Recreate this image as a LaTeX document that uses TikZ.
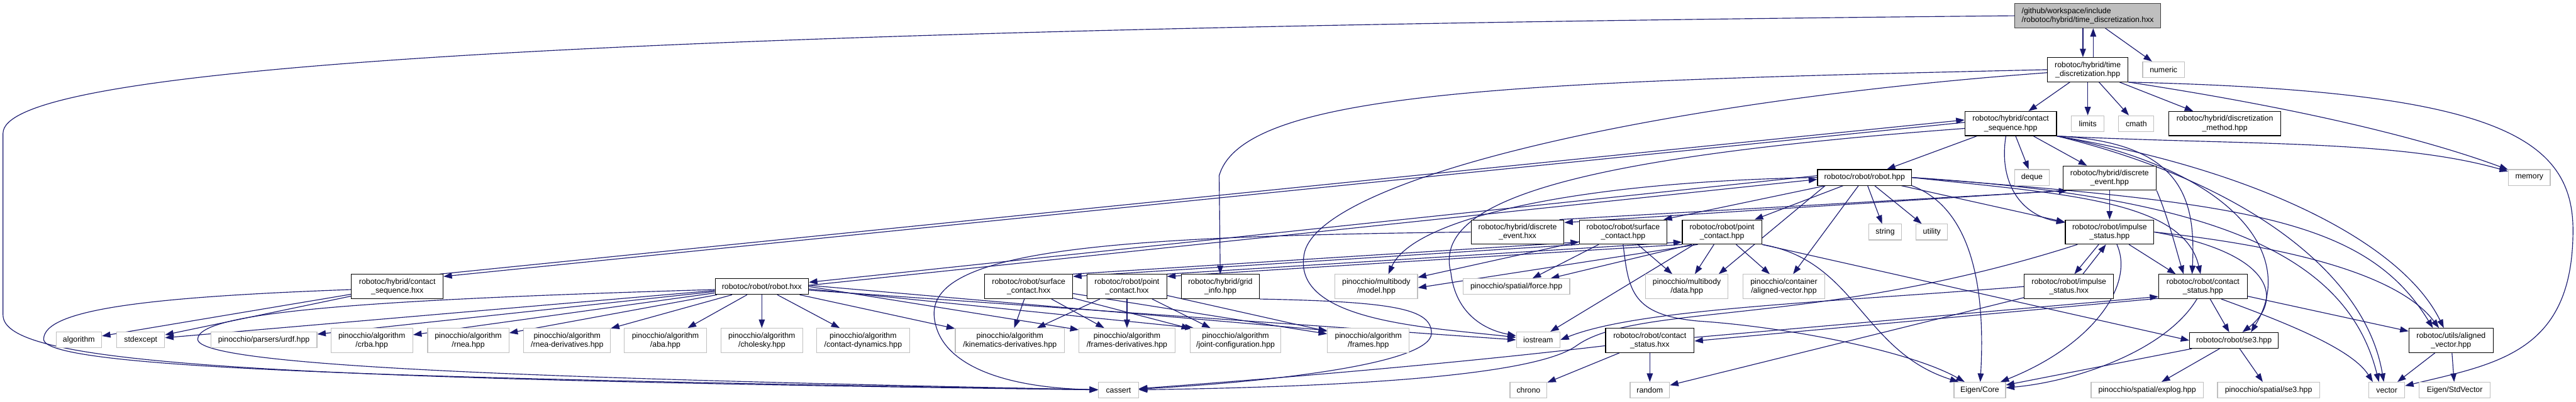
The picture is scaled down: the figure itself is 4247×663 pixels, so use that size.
\documentclass[tikz,border=0pt]{standalone}
\usepackage{fontspec}
\setmainfont{Liberation Sans}
\usepackage{xcolor}
\usepackage{tikz}
\usetikzlibrary{arrows.meta, positioning, backgrounds}

\definecolor{linkblue}{HTML}{191970}
\definecolor{sysgray}{HTML}{BFBFBF}
\definecolor{rootgray}{HTML}{BFBFBF}

\tikzset{
  filebox/.style={draw, fill=white, align=center, inner xsep=6pt, inner ysep=0pt,
    font=\fontsize{12.8}{14.7}\selectfont, minimum height=26pt, line width=1.2pt},
  hdr/.style={filebox, draw=black},
  sysh/.style={filebox, draw=sysgray},
  tall/.style={minimum height=40pt},
  inc/.style={draw=linkblue, line width=1.2pt, -{Triangle[length=14pt,width=10pt]}},
}

\begin{document}
\begin{tikzpicture}[x=1pt, y=-1pt]
  \useasboundingbox (0,0) rectangle (4247,663);

  % ---- the file and its own header ----
  \node[hdr, fill=rootgray, draw=black!75, align=left, tall, minimum width=241pt] (root) at (3442,26)
    {/github/workspace/include\\/robotoc/hybrid/time\_discretization.hxx};
  \node[hdr, tall, minimum width=133pt] (tdhpp) at (3442,115) {robotoc/hybrid/time\\\_discretization.hpp};
  \node[sysh, minimum width=69pt] (numeric) at (3567,115) {numeric};

  % ---- row 3 ----
  \node[hdr, tall, minimum width=151pt] (csp) at (3315,204) {robotoc/hybrid/contact\\\_sequence.hpp};
  \node[sysh, minimum width=54pt] (limits) at (3442,204) {limits};
  \node[sysh, minimum width=58pt] (cmath) at (3522,204) {cmath};
  \node[hdr, tall, minimum width=184pt] (dmethod) at (3668,204) {robotoc/hybrid/discretization\\\_method.hpp};

  % ---- row 4 ----
  \node[hdr, minimum width=155pt] (robothpp) at (3074,293) {robotoc/robot/robot.hpp};
  \node[sysh, minimum width=57pt] (deque) at (3350,293) {deque};
  \node[hdr, tall, minimum width=154pt] (dehpp) at (3478,294) {robotoc/hybrid/discrete\\\_event.hpp};
  \node[sysh, minimum width=69pt] (memory) at (4170,293) {memory};

  % ---- row 5 ----
  \node[hdr, tall, minimum width=153pt] (dehxx) at (2502,383) {robotoc/hybrid/discrete\\\_event.hxx};
  \node[hdr, tall, minimum width=144pt] (schpp) at (2676,383) {robotoc/robot/surface\\\_contact.hpp};
  \node[hdr, tall, minimum width=131pt] (pchpp) at (2839,383) {robotoc/robot/point\\\_contact.hpp};
  \node[sysh, minimum width=54pt] (string) at (3108,383) {string};
  \node[sysh, minimum width=52pt] (utility) at (3185,383) {utility};
  \node[hdr, tall, minimum width=146pt] (ishpp) at (3478,383) {robotoc/robot/impulse\\\_status.hpp};

  % ---- row 6 ----
  \node[hdr, tall, minimum width=151pt] (csxx) at (655,473) {robotoc/hybrid/contact\\\_sequence.hxx};
  \node[hdr, minimum width=154pt] (robothxx) at (1256,473) {robotoc/robot/robot.hxx};
  \node[hdr, tall, minimum width=145pt] (schxx) at (1696,473) {robotoc/robot/surface\\\_contact.hxx};
  \node[hdr, tall, minimum width=131pt] (pchxx) at (1858,473) {robotoc/robot/point\\\_contact.hxx};
  \node[hdr, tall, minimum width=128pt] (gridinfo) at (2012,473) {robotoc/hybrid/grid\\\_info.hpp};
  \node[sysh, tall, minimum width=136pt] (model) at (2269,473) {pinocchio/multibody\\/model.hpp};
  \node[sysh, minimum width=176pt] (force) at (2500,473) {pinocchio/spatial/force.hpp};
  \node[sysh, tall, minimum width=136pt] (data) at (2781,473) {pinocchio/multibody\\/data.hpp};
  \node[sysh, tall, minimum width=134pt] (alvec) at (2941,473) {pinocchio/container\\/aligned-vector.hpp};
  \node[hdr, tall, minimum width=147pt] (ishxx) at (3411,473) {robotoc/robot/impulse\\\_status.hxx};
  \node[hdr, tall, minimum width=146pt] (cshpp) at (3632,473) {robotoc/robot/contact\\\_status.hpp};

  % ---- row 7 ----
  \node[sysh, minimum width=75pt] (algorithm) at (130,561) {algorithm};
  \node[sysh, minimum width=79pt] (stdexcept) at (232,561) {stdexcept};
  \node[sysh, minimum width=175pt] (urdf) at (435,561) {pinocchio/parsers/urdf.hpp};
  \node[sysh, tall, minimum width=135pt] (crba) at (613,562) {pinocchio/algorithm\\/crba.hpp};
  \node[sysh, tall, minimum width=134pt] (rnea) at (772,562) {pinocchio/algorithm\\/rnea.hpp};
  \node[sysh, tall, minimum width=143pt] (rneader) at (935,562) {pinocchio/algorithm\\/rnea-derivatives.hpp};
  \node[sysh, tall, minimum width=135pt] (aba) at (1097,562) {pinocchio/algorithm\\/aba.hpp};
  \node[sysh, tall, minimum width=135pt] (cholesky) at (1256,562) {pinocchio/algorithm\\/cholesky.hpp};
  \node[sysh, tall, minimum width=153pt] (cdyn) at (1423,562) {pinocchio/algorithm\\/contact-dynamics.hpp};
  \node[sysh, tall, minimum width=180pt] (kinder) at (1665,562) {pinocchio/algorithm\\/kinematics-derivatives.hpp};
  \node[sysh, tall, minimum width=158pt] (framesder) at (1858,562) {pinocchio/algorithm\\/frames-derivatives.hpp};
  \node[sysh, tall, minimum width=149pt] (jointcfg) at (2037,562) {pinocchio/algorithm\\/joint-configuration.hpp};
  \node[sysh, tall, minimum width=135pt] (frames) at (2256,562) {pinocchio/algorithm\\/frames.hpp};
  \node[sysh, minimum width=72pt] (iostream) at (2536,561) {iostream};
  \node[hdr, tall, minimum width=146pt] (csthxx) at (2720,562) {robotoc/robot/contact\\\_status.hxx};
  \node[hdr, minimum width=146pt] (se3hpp) at (3683,562) {robotoc/robot/se3.hpp};
  \node[hdr, tall, minimum width=139pt] (avhpp) at (4041,562) {robotoc/utils/aligned\\\_vector.hpp};

  % ---- bottom row ----
  \node[sysh, minimum width=66pt] (cassert) at (1844,644) {cassert};
  \node[sysh, minimum width=61pt] (chrono) at (2520,644) {chrono};
  \node[sysh, minimum width=65pt] (random) at (2720,644) {random};
  \node[sysh, minimum width=85pt] (eigencore) at (3264,644) {Eigen/Core};
  \node[sysh, minimum width=185pt] (explog) at (3540,644) {pinocchio/spatial/explog.hpp};
  \node[sysh, minimum width=168pt] (spse3) at (3740,644) {pinocchio/spatial/se3.hpp};
  \node[sysh, minimum width=59pt] (vector) at (3935,644) {vector};
  \node[sysh, minimum width=117pt] (stdvector) at (4047,644) {Eigen/StdVector};

  \begin{scope}[on background layer]
    \fill[white] (0,0) rectangle (4247,663);

    % ---- time_discretization.hxx ----
    \draw[inc] ([xshift=-8pt]root.south) -- ([xshift=-8pt]tdhpp.north);
    \draw[inc] (root) -- (numeric);
    \draw[inc] (root.west) .. controls (800,50) and (5,120) .. (5,220) -- (5,520)
      .. controls (5,600) and (400,625) .. (cassert);

    % ---- time_discretization.hpp ----
    \draw[inc] ([xshift=9pt]tdhpp.north) -- ([xshift=9pt]root.south);
    \draw[inc] (tdhpp) -- (csp);
    \draw[inc] (tdhpp) -- (limits);
    \draw[inc] (tdhpp) -- (cmath);
    \draw[inc] (tdhpp) -- (dmethod);
    \draw[inc] (tdhpp.south east) .. controls (3800,180) and (4000,230) .. (memory);
    \draw[inc] (tdhpp.south east) .. controls (4100,150) and (4242,220) .. (4242,380)
      .. controls (4242,580) and (4120,600) .. (vector);
    \draw[inc] (tdhpp.west) .. controls (2500,135) and (2050,150) .. (2010,290) -- (gridinfo);
    \draw[inc] ([yshift=-5pt]tdhpp.west) .. controls (2700,170) and (2170,300) .. (2150,420)
      .. controls (2130,530) and (2350,540) .. (iostream);

    % ---- contact_sequence.hpp ----
    \draw[inc] (csp) -- (robothpp);
    \draw[inc] (csp) -- (deque);
    \draw[inc] (csp) -- (dehpp);
    \draw[inc] ([yshift=2pt]csp.west) -- ([yshift=-4pt]csxx.north east);
    \draw[inc] (csp.south east) .. controls (3700,240) and (3950,230) .. (memory);
    \draw[inc] (csp.south east) .. controls (3600,235) and (3620,330) .. ([xshift=-18pt]cshpp.north);
    \draw[inc] ([xshift=-8pt]csp.south) .. controls (3295,300) and (3330,355) .. ([yshift=-5pt]ishpp.north west);
    \draw[inc] (csp.south east) .. controls (3680,280) and (3790,420) .. ([xshift=28pt]se3hpp.north);
    \draw[inc] (csp.south east) .. controls (3720,280) and (3960,400) .. ([xshift=-12pt]avhpp.north);
    \draw[inc] (csp.south east) .. controls (3700,300) and (3900,450) .. ([xshift=-5pt]vector.north);
    \draw[inc] ([yshift=-8pt]csp.west) .. controls (2600,260) and (2360,330) .. (2392,450)
      .. controls (2400,520) and (2450,545) .. (iostream);

    % ---- robot.hpp ----
    \draw[inc] (robothpp) -- (string);
    \draw[inc] (robothpp) -- (utility);
    \draw[inc] (robothpp.south east) .. controls (3240,340) and (3275,450) .. (eigencore);
    \draw[inc] (robothpp.west) .. controls (2600,300) and (2330,360) .. ([xshift=20pt]model.north);
    \draw[inc] ([xshift=-65pt]robothpp.south) -- ([xshift=-16pt]data.north east);
    \draw[inc] (robothpp) -- (alvec);
    \draw[inc] (robothpp) -- (pchpp);
    \draw[inc] (robothpp) -- ([xshift=-6pt]schpp.north east);
    \draw[inc] (robothpp) -- (ishpp);
    \draw[inc] (robothpp.east) .. controls (3400,320) and (3600,330) .. ([xshift=-4pt]cshpp.north);
    \draw[inc] (robothpp.east) .. controls (3700,335) and (3900,360) .. ([xshift=-30pt]avhpp.north);
    \draw[inc] (robothpp.east) .. controls (3650,325) and (3870,420) .. ([xshift=-13pt]vector.north);
    \draw[inc] ([yshift=3pt]robothpp.west) -- ([yshift=7pt]robothxx.east);

    % ---- discrete_event.hpp / .hxx ----
    \draw[inc] (dehpp) -- (ishpp);
    \draw[inc] (dehpp.south west) -- ([yshift=-5pt]dehxx.north east);
    \draw[inc] (dehpp.south east) .. controls (3575,360) and (3590,420) .. ([xshift=-32pt]cshpp.north);
    \draw[inc] ([xshift=-8pt]dehxx.north east) -- ([xshift=8pt]dehpp.south west);
    \draw[inc] (dehxx.west) .. controls (1850,390) and (1535,410) .. (1540,520)
      .. controls (1545,600) and (1650,640) .. (cassert);

    % ---- impulse_status.hpp / .hxx ----
    \draw[inc] ([xshift=-18pt]ishpp.south) -- ([xshift=9pt]ishxx.north);
    \draw[inc] ([xshift=12pt]ishpp.south) .. controls (3520,470) and (3450,570) .. (eigencore);
    \draw[inc] ([xshift=32pt]ishpp.south) -- ([xshift=-45pt]cshpp.north);
    \draw[inc] (ishpp.east) .. controls (3760,420) and (3760,500) .. ([xshift=14pt]se3hpp.north);
    \draw[inc] (ishpp.east) .. controls (3800,410) and (3960,460) .. ([xshift=-20pt]avhpp.north);
    \draw[inc] ([xshift=-53pt]ishpp.south) .. controls (3000,540) and (2700,500) .. (2600,570)
      .. controls (2520,630) and (2100,640) .. (cassert);
    \draw[inc] ([xshift=23pt]ishxx.north) -- ([xshift=-6pt]ishpp.south);
    \draw[inc] (ishxx.west) .. controls (3000,500) and (2700,510) .. (iostream.east);
    \draw[inc] (ishxx) -- (random);

    % ---- contact_status.hpp / .hxx ----
    \draw[inc] ([yshift=1pt]cshpp.south west) -- ([yshift=-1pt]csthxx.east);
    \draw[inc] (cshpp) -- (se3hpp);
    \draw[inc] (cshpp) -- (avhpp);
    \draw[inc] ([xshift=30pt]cshpp.south) .. controls (3790,540) and (3880,580) .. ([xshift=-23pt]vector.north);
    \draw[inc] ([xshift=-10pt]cshpp.south) .. controls (3570,580) and (3420,630) .. (eigencore);
    \draw[inc] ([yshift=5pt]csthxx.east) -- ([yshift=4pt]cshpp.south west);
    \draw[inc] (csthxx) -- (chrono);
    \draw[inc] (csthxx) -- (random);
    \draw[inc] (csthxx) .. controls (2400,600) and (2100,625) .. (cassert);

    % ---- se3.hpp and aligned_vector.hpp ----
    \draw[inc] (se3hpp) -- (explog);
    \draw[inc] (se3hpp) -- (spse3);
    \draw[inc] (se3hpp) -- (eigencore);
    \draw[inc] (avhpp) -- (vector);
    \draw[inc] (avhpp) -- (stdvector);

    % ---- surface_contact.hpp ----
    \draw[inc] (schpp.south west) -- ([yshift=-4pt]schxx.north east);
    \draw[inc] (schpp) -- (force);
    \draw[inc] (schpp) -- (data);
    \draw[inc] (schpp) -- (model);
    \draw[inc] (schpp.south) .. controls (2685,480) and (2690,520) .. (2800,530)
      .. controls (2950,540) and (3150,580) .. ([xshift=-25pt]eigencore.north);

    % ---- point_contact.hpp ----
    \draw[inc] (pchpp.south west) -- ([yshift=-4pt]pchxx.north east);
    \draw[inc] ([xshift=-46pt]pchpp.south) -- ([xshift=20pt]iostream.north);
    \draw[inc] (pchpp) -- (data);
    \draw[inc] ([xshift=-40pt]pchpp.south) -- ([yshift=-2pt]model.east);
    \draw[inc] ([xshift=-50pt]pchpp.south) -- (force);
    \draw[inc] (pchpp) -- (alvec);
    \draw[inc] (pchpp.south east) .. controls (3060,430) and (3070,580) .. ([xshift=-35pt]eigencore.north);
    \draw[inc] (pchpp.south east) -- (se3hpp.west);

    % ---- surface_contact.hxx / point_contact.hxx ----
    \draw[inc] (schxx.north east) -- ([yshift=4pt]schpp.south west);
    \draw[inc] (schxx) -- (kinder);
    \draw[inc] (schxx) -- (framesder);
    \draw[inc] (schxx) -- (jointcfg);
    \draw[inc] (schxx) -- (frames);
    \draw[inc] (pchxx.north east) -- ([yshift=4pt]pchpp.south west);
    \draw[inc] (pchxx) -- (kinder);
    \draw[inc] (pchxx) -- (framesder);
    \draw[inc] (pchxx) -- (jointcfg);
    \draw[inc] (pchxx) -- (frames);

    % ---- robot.hxx ----
    \draw[inc] ([yshift=2pt]robothxx.east) -- ([yshift=-3pt]robothpp.west);
    \draw[inc] (robothxx) -- (stdexcept);
    \draw[inc] (robothxx) -- (urdf);
    \draw[inc] (robothxx) -- (crba);
    \draw[inc] (robothxx) -- (rnea);
    \draw[inc] (robothxx) -- (rneader);
    \draw[inc] (robothxx) -- (aba);
    \draw[inc] (robothxx) -- (cholesky);
    \draw[inc] (robothxx) -- (cdyn);
    \draw[inc] (robothxx) -- (kinder);
    \draw[inc] (robothxx.east) -- ([yshift=-3pt]framesder.north west);
    \draw[inc] ([yshift=-4pt]robothxx.east) -- ([xshift=6pt]jointcfg.north west);
    \draw[inc] ([yshift=2pt]robothxx.east) -- ([yshift=-4pt]frames.north west);
    \draw[inc] ([yshift=-6pt]robothxx.east) -- (iostream.west);
    \draw[inc] ([yshift=-5pt]robothxx.west) .. controls (600,495) and (326,515) .. (326,560)
      .. controls (326,605) and (900,625) .. (cassert);

    % ---- contact_sequence.hxx ----
    \draw[inc] ([xshift=-6pt]csxx.north east) -- ([yshift=6pt]csp.west);
    \draw[inc] (csxx) -- (algorithm);
    \draw[inc] (csxx) -- (stdexcept);
    \draw[inc] ([yshift=-5pt]csxx.west) .. controls (250,490) and (72,510) .. (72,560)
      .. controls (72,610) and (700,625) .. (cassert);

    % ---- grid_info.hpp ----
    \draw[inc] (gridinfo.south east) .. controls (2300,498) and (2360,510) .. (2360,550)
      .. controls (2360,600) and (2100,630) .. (cassert);
  \end{scope}
\end{tikzpicture}
\end{document}
